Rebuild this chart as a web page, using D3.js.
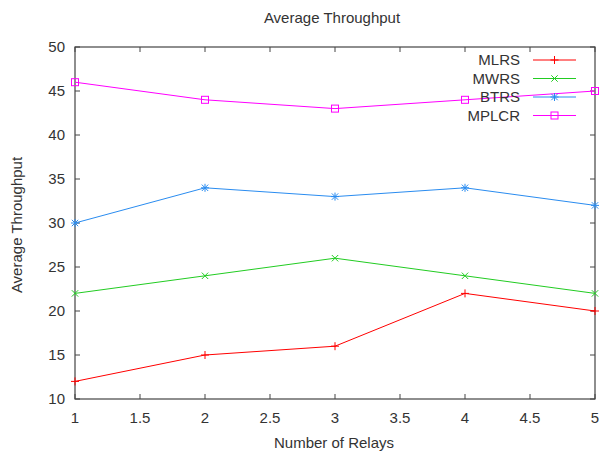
<!DOCTYPE html>
<html><head><meta charset="utf-8">
<script src="https://cdn.jsdelivr.net/npm/d3@7"></script>
<style>body{margin:0;background:#fff}svg text{font-family:"Liberation Sans",Arial,sans-serif;fill:#333}</style>
</head><body><svg id="c" width="600" height="457"></svg>
<script>
const relays = [1, 2, 3, 4, 5];
const MLRS = [12, 15, 16, 22, 20];
const MWRS = [22, 24, 26, 24, 22];
const BTRS = [30, 34, 33, 34, 32];
const MPLCR = [46, 44, 43, 44, 45];
const seriesNames = ["MLRS", "MWRS", "BTRS", "MPLCR"];
const xTicks = [1, 1.5, 2, 2.5, 3, 3.5, 4, 4.5, 5];
const yTicks = [10, 15, 20, 25, 30, 35, 40, 45, 50];

const series = [
  {name: seriesNames[0], values: MLRS, color: "#ff0000", marker: "plus"},
  {name: seriesNames[1], values: MWRS, color: "#22cc22", marker: "cross"},
  {name: seriesNames[2], values: BTRS, color: "#2a8cf0", marker: "star"},
  {name: seriesNames[3], values: MPLCR, color: "#ff00ff", marker: "square"}
];

const svg = d3.select("#c");
const L = 75, R = 595, T = 47, B = 399;
const x = d3.scaleLinear().domain([1, 5]).range([L, R]);
const y = d3.scaleLinear().domain([10, 50]).range([B, T]);
const axisColor = "#444";
const fs = 15;

// frame
svg.append("rect").attr("x", L).attr("y", T).attr("width", R - L).attr("height", B - T)
  .attr("fill", "none").attr("stroke", axisColor).attr("stroke-width", 1.2);

// ticks (inward, mirrored)
const tl = 5;
xTicks.forEach(t => {
  const px = x(t);
  svg.append("line").attr("x1", px).attr("x2", px).attr("y1", B).attr("y2", B - tl).attr("stroke", axisColor);
  svg.append("line").attr("x1", px).attr("x2", px).attr("y1", T).attr("y2", T + tl).attr("stroke", axisColor);
  svg.append("text").attr("x", px).attr("y", B + 24).attr("text-anchor", "middle").attr("font-size", fs).text(t);
});
yTicks.forEach(t => {
  const py = y(t);
  svg.append("line").attr("x1", L).attr("x2", L + tl).attr("y1", py).attr("y2", py).attr("stroke", axisColor);
  svg.append("line").attr("x1", R).attr("x2", R - tl).attr("y1", py).attr("y2", py).attr("stroke", axisColor);
  svg.append("text").attr("x", L - 10).attr("y", py + 5).attr("text-anchor", "end").attr("font-size", fs).text(t);
});

// labels
svg.append("text").attr("x", 332).attr("y", 23).attr("text-anchor", "middle").attr("font-size", fs).text("Average Throughput");
svg.append("text").attr("x", 334).attr("y", 448).attr("text-anchor", "middle").attr("font-size", fs).text("Number of Relays");
svg.append("text").attr("transform", "translate(22,225) rotate(-90)").attr("text-anchor", "middle").attr("font-size", fs).text("Average Throughput");

function marker(g, type, cx, cy, color) {
  const s = 4;
  const ln = (x1, y1, x2, y2) => g.append("line").attr("x1", x1).attr("y1", y1).attr("x2", x2).attr("y2", y2).attr("stroke", color).attr("stroke-width", 1);
  if (type === "plus" || type === "star") { ln(cx - s, cy, cx + s, cy); ln(cx, cy - s, cx, cy + s); }
  if (type === "cross" || type === "star") { const d = s * 0.8; ln(cx - d, cy - d, cx + d, cy + d); ln(cx - d, cy + d, cx + d, cy - d); }
  if (type === "square") g.append("rect").attr("x", cx - 3.5).attr("y", cy - 3.5).attr("width", 7).attr("height", 7).attr("fill", "none").attr("stroke", color);
}

const line = d3.line().x((d, i) => x(relays[i])).y(d => y(d));
series.forEach(s => {
  const g = svg.append("g");
  g.append("path").attr("d", line(s.values)).attr("fill", "none").attr("stroke", s.color).attr("stroke-width", 1);
  s.values.forEach((v, i) => marker(g, s.marker, x(relays[i]), y(v), s.color));
});

// legend
series.forEach((s, i) => {
  const ly = 60 + i * 18.5;
  const g = svg.append("g");
  g.append("text").attr("x", 520).attr("y", ly + 5).attr("text-anchor", "end").attr("font-size", fs).text(s.name);
  g.append("line").attr("x1", 533).attr("x2", 576).attr("y1", ly).attr("y2", ly).attr("stroke", s.color);
  marker(g, s.marker, 554.5, ly, s.color);
});
</script></body></html>
